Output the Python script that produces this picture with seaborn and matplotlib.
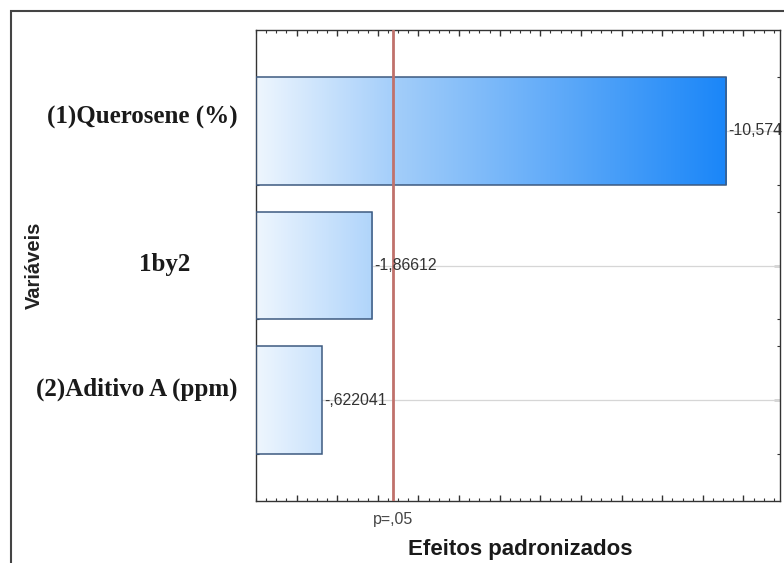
import numpy as np
import pandas as pd
import matplotlib
matplotlib.use("Agg")
import matplotlib.pyplot as plt
import matplotlib.transforms as mtransforms
from matplotlib.colors import LinearSegmentedColormap
from matplotlib.patches import Rectangle
import seaborn as sns

# Pareto de efeitos padronizados
variables = ["(1)Querosene (%)", "1by2", "(2)Aditivo A (ppm)"]
effects = [-10.574, -1.86612, -0.622041]
effect_labels = ["-10,574", "-1,86612", "-,622041"]
p_label = "p=,05"
t_critical = 2.3646  # t(0,975; 7 g.l.)
x_title = "Efeitos padronizados"
y_title = "Variáveis"

df = pd.DataFrame({"variavel": variables, "efeito_abs": np.abs(effects)})

sns.set_theme(style="white")
plt.rcParams["font.family"] = ["Liberation Sans", "DejaVu Sans"]

W, H = 784, 563
fig = plt.figure(figsize=(W / 100, H / 100), dpi=100)
ax = fig.add_axes([256 / W, 62 / H, 524 / W, 471 / H])

XMIN, XMAX = -1.0, 11.9

sns.barplot(data=df, x="efeito_abs", y="variavel", orient="h", order=variables,
            width=0.8, color="#1a86f8", edgecolor="#3d5a80", linewidth=1.1,
            ax=ax, zorder=3)

# bars start at the left edge of the axis, filled with a horizontal gradient
cmap = LinearSegmentedColormap.from_list(
    "preenchimento", [(0.0, "#eef6fe"), (0.3, "#a2cdfa"), (1.0, "#1a86f8")])
grad = np.linspace(0, 1, 256).reshape(1, -1)
vmax = df["efeito_abs"].max()
for p, v in zip(ax.patches, df["efeito_abs"]):
    p.set_x(XMIN)
    p.set_width(v - XMIN)
    p.set_facecolor("none")
    y0, h = p.get_y(), p.get_height()
    im = ax.imshow(grad, cmap=cmap, extent=(XMIN, vmax, y0 + h, y0),
                   aspect="auto", interpolation="bicubic", zorder=2)
    im.set_clip_path(p)

ax.set_xlim(XMIN, XMAX)
ax.set_ylim(2.75, -0.75)

# horizontal reference lines at each variable
for i in range(len(variables)):
    ax.axhline(i, color="#d6d6d6", lw=0.9, zorder=1)

ax.axvline(t_critical, color="#c0716b", lw=2, zorder=4)

for i, (v, txt) in enumerate(zip(df["efeito_abs"], effect_labels)):
    ax.text(v + 0.05, i, txt, ha="left", va="center", fontsize=11.4,
            color="#333333", zorder=5)

# ticks
ax.set_xticks(np.arange(0, 12))
ax.set_xticks(np.arange(-1, 12, 0.25), minor=True)
ax.set_yticks(range(len(variables)))
ax.set_yticks([i + d for i in range(len(variables)) for d in (-0.4, 0.4)], minor=True)
ax.tick_params(axis="both", which="both", direction="in", color="#333333",
               width=1, bottom=True, top=True, left=True, right=True,
               labelbottom=False, labelleft=False)
ax.tick_params(axis="both", which="major", length=4)
ax.tick_params(axis="both", which="minor", length=2, width=0.8)
ax.set_xlabel("")
ax.set_ylabel("")
for s in ax.spines.values():
    s.set_color("#333333")
    s.set_linewidth(1)

# variable names
trans = mtransforms.blended_transform_factory(ax.transAxes, ax.transData)
label_shift = [(-18, 13), (-66, 1), (-18, 11)]
for i, (name, (dx, dy)) in enumerate(zip(variables, label_shift)):
    ax.annotate(name, xy=(0, i), xycoords=trans, xytext=(dx, dy),
                textcoords="offset pixels", ha="right", va="center",
                fontsize=18, fontweight="bold", family=["Liberation Serif"],
                color="#1a1a1a", annotation_clip=False)

tx = mtransforms.blended_transform_factory(ax.transData, ax.transAxes)
ax.text(t_critical, -0.04, p_label, transform=tx, ha="center", va="center",
        fontsize=11.5, color="#444444")

fig.text(34 / W, 1 - 265 / H, y_title, rotation=90, ha="center", va="center",
         fontsize=14.5, fontweight="bold", color="#222222")
fig.text(520 / W, 1 - 549 / H, x_title, ha="center", va="center",
         fontsize=16, fontweight="bold", color="#1a1a1a")

# outer frame
fig.add_artist(Rectangle((11 / W, -0.05), 1.0, 1 - 11 / H + 0.05,
                         transform=fig.transFigure, fill=False,
                         ec="#444444", lw=1.5))

fig.savefig("out.png", dpi=100)
